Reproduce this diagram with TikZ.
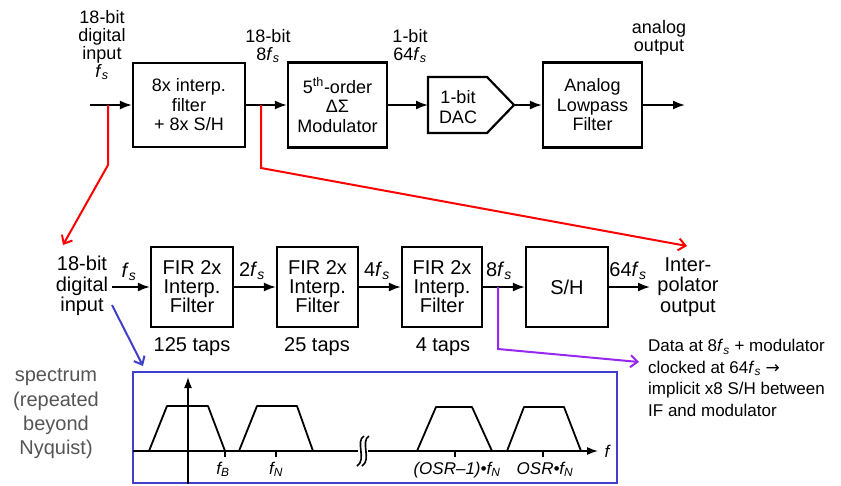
\documentclass[tikz,border=0pt]{standalone}
\usepackage{fontspec}
\setmainfont{Liberation Sans}
\newfontfamily\dejavu{DejaVu Sans}
\usetikzlibrary{arrows.meta}
\newcommand\fsub[1]{\textit{f}\textsubscript{\textit{#1}}}
\definecolor{boxblue}{RGB}{64,64,204}
\definecolor{notepurple}{RGB}{150,40,240}
\definecolor{specgray}{RGB}{85,85,85}
\begin{document}
\begin{tikzpicture}[x=1pt,y=-1pt,
  topbox/.style={draw, line width=2.2pt, align=center, inner sep=0pt, font=\fontsize{18}{19.5}\selectfont},
  midbox/.style={draw, line width=2.2pt, align=center, inner sep=0pt, minimum width=82pt, minimum height=80pt, font=\fontsize{20}{19}\selectfont},
  sig/.style={line width=1.8pt, -{Latex[length=12pt,width=9pt]}},
  lbl/.style={align=center, inner sep=0pt},
  toplbl/.style={lbl, font=\fontsize{18}{18}\selectfont},
  midlbl/.style={lbl, font=\fontsize{20}{20.5}\selectfont},
  speclbl/.style={inner sep=0pt, anchor=base, font=\fontsize{17}{17}\selectfont\itshape},
  callout/.style={line width=2pt, -{Straight Barb[length=7pt,width=12pt]}},
  trap/.style={line width=1.8pt, line join=round}
]
\useasboundingbox (0,0) rectangle (841,485);

% ---------- top row ----------
\node[topbox, minimum width=112pt, minimum height=84pt] (b1) at (189,105) {8x interp.\\filter\\+ 8x S/H};
\node[topbox, minimum width=99pt, minimum height=85pt] (b2) at (337.5,105) {5\textsuperscript{th}-order\\ΔΣ\\Modulator};
\draw[line width=2.2pt, line join=miter] (428,77) -- (487,77) -- (514,105) -- (487,133) -- (428,133) -- cycle;
\node[lbl, font=\fontsize{18}{20}\selectfont] (dac) at (458,107) {1-bit\\DAC};
\coordinate (dacin) at (428,105);
\coordinate (dacout) at (514,105);
\node[topbox, minimum width=99pt, minimum height=85pt] (b3) at (592.5,105) {Analog\\Lowpass\\Filter};

\coordinate (tin) at (90,105);
\coordinate (tout) at (685,105);
\draw[sig] (tin) -- (b1);
\draw[sig] (b1) -- (b2);
\draw[sig] (b2) -- (dacin);
\draw[sig] (dacout) -- (b3);
\draw[sig] (b3) -- (tout);

\node[toplbl] (l1) at (102,45) {18-bit\\digital\\input\\\fsub{s}};
\node[toplbl] (l2) at (268,46) {18-bit\\8\fsub{s}};
\node[toplbl] (l3) at (410,46) {1-bit\\64\fsub{s}};
\node[toplbl] (l4) at (659,38) {analog\\output};

% ---------- middle row ----------
\node[midlbl] (in2) at (82,286) {18-bit\\digital\\input};
\node[midbox] (f1) at (192,287) {FIR 2x\\Interp.\\Filter};
\node[midbox, minimum width=81pt] (f2) at (317.5,287) {FIR 2x\\Interp.\\Filter};
\node[midbox, minimum width=80pt] (f3) at (442,287) {FIR 2x\\Interp.\\Filter};
\node[midbox] (sh) at (567,287) {S/H};
\node[midlbl] (out2) at (688,287) {Inter-\\polator\\output};
\coordinate (in2e) at (112,287);
\coordinate (o2) at (650,287);
\draw[sig] (in2e) -- (f1);
\draw[sig] (f1) -- (f2);
\draw[sig] (f2) -- (f3);
\draw[sig] (f3) -- (sh);
\draw[sig] (sh) -- (o2);

\node[midlbl] (r0) at (129,272) {\fsub{s}};
\node[midlbl] (r1) at (252,271) {2\fsub{s}};
\node[midlbl] (r2) at (377,271) {4\fsub{s}};
\node[midlbl] (r3) at (499,271) {8\fsub{s}};
\node[midlbl] (r4) at (628,271) {64\fsub{s}};

\node[midlbl] (t1) at (192,347) {125 taps};
\node[midlbl] (t2) at (317,347) {25 taps};
\node[midlbl] (t3) at (443,347) {4 taps};

% ---------- callouts ----------
\coordinate (ra) at (108,105);
\coordinate (rab) at (108,165);
\coordinate (rat) at (63,245);
\draw[red, callout] (ra) -- (rab) -- (rat);
\coordinate (rb) at (261,105);
\coordinate (rbb) at (261,168);
\coordinate (rbt) at (687,246);
\draw[red, callout] (rb) -- (rbb) -- (rbt);
\coordinate (pa) at (498,287);
\coordinate (pab) at (498,349);
\coordinate (pat) at (639,362);
\draw[notepurple, callout] (pa) -- (pab) -- (pat);
\coordinate (ba) at (112,305);
\coordinate (bat) at (143,366);
\draw[boxblue, callout] (ba) -- (bat);

\node[anchor=north west, align=left, inner sep=0pt, font=\fontsize{17}{21.7}\selectfont] (note) at (648,339)
  {Data at 8\fsub{s} + modulator\\clocked at 64\fsub{s} {\dejavu →}\\implicit x8 S/H between\\IF and modulator};

\node[align=center, inner sep=0pt, text=specgray, font=\fontsize{20}{24.3}\selectfont] (spec) at (56,414)
  {spectrum\\(repeated\\beyond\\Nyquist)};

% ---------- spectrum ----------
\node[draw=boxblue, line width=2.5pt, minimum width=484pt, minimum height=111pt, inner sep=0pt] (sbox) at (375,427.5) {};
\draw[line width=1.4pt] (133,451) -- (358,451);
\draw[line width=1.4pt, -{Latex[length=11pt,width=8pt]}] (368,451) -- (598,451);
\draw[line width=1.6pt] (364,436) .. controls (355,441) and (367,460) .. (357,466);
\draw[line width=1.6pt] (369,436) .. controls (360,441) and (372,460) .. (362,466);
\draw[line width=1.6pt, -{Latex[length=11pt,width=8pt]}] (188,484) -- (188,377);
\draw[trap] (149,451) -- (167,406) -- (208,406) -- (225,451);
\draw[trap] (239,451) -- (257,406) -- (297,406) -- (313,451);
\draw[trap] (417,451) -- (436,407) -- (472,407) -- (492,451);
\draw[trap] (507,451) -- (524,407) -- (564,407) -- (581,451);
\draw[line width=1.2pt] (225,451) -- (225,457);
\draw[line width=1.2pt] (276,451) -- (276,457);
\draw[line width=1.2pt] (455,451) -- (455,457);
\draw[line width=1.2pt] (543,451) -- (543,457);
\node[speclbl] (fb) at (223,474) {f\textsubscript{B}};
\node[speclbl] (fn) at (276,474) {f\textsubscript{N}};
\node[speclbl] (fo1) at (457,474) {(OSR–1)•f\textsubscript{N}};
\node[speclbl] (fo) at (545,474) {OSR•f\textsubscript{N}};
\node[speclbl] (ff) at (607,457) {f};
\end{tikzpicture}
\end{document}
